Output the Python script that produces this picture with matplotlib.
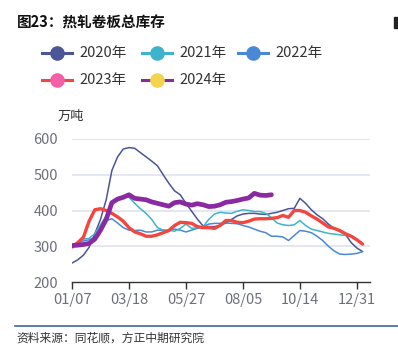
import matplotlib
matplotlib.use("Agg")
import matplotlib.pyplot as plt
from matplotlib.lines import Line2D
from matplotlib.patches import Rectangle

plt.rcParams['font.family'] = ['Noto Sans CJK SC', 'DejaVu Sans']

tick_labels = ["01/07", "03/18", "05/27", "08/05", "10/14", "12/31"]
tick_pos = [0, 10, 20, 30, 40, 50]

s2020 = [253, 262, 275, 297, 335, 375, 430, 512, 550, 572, 576, 574, 562, 550, 538, 525,
         500, 476, 455, 444, 420, 398, 376, 357, 355, 355, 358, 365, 375, 385, 390, 392,
         392, 390, 389, 392, 395, 400, 405, 406, 434, 420, 402, 388, 377, 362, 350, 341,
         333, 310, 295, 285]
s2021 = [302, 310, 320, 322, 335, 360, 385, 415, 435, 437, 437, 420, 405, 392, 375, 352,
         345, 345, 342, 350, 362, 350, 352, 355, 375, 390, 395, 393, 392, 398, 402, 400,
         397, 397, 392, 380, 365, 360, 358, 360, 372, 358, 348, 344, 340, 336, 334, 332,
         330, 330, 320, 307]
s2022 = [302, 308, 315, 318, 325, 350, 372, 377, 365, 352, 345, 344, 345, 340, 340, 345,
         345, 343, 348, 345, 340, 345, 350, 355, 362, 364, 364, 365, 364, 363, 358, 354,
         348, 342, 338, 328, 328, 326, 316, 330, 344, 342, 338, 328, 316, 300, 287, 278,
         277, 278, 280, 285]
s2023 = [298, 310, 325, 370, 402, 405, 400, 392, 382, 370, 352, 340, 335, 328, 328, 332,
         338, 344, 358, 367, 366, 364, 355, 352, 352, 350, 358, 372, 372, 367, 366, 370,
         376, 377, 377, 378, 380, 386, 381, 400, 400, 395, 385, 376, 365, 354, 350, 344,
         335, 328, 318, 306]
s2024 = [302, 303, 305, 308, 320, 345, 375, 422, 432, 437, 444, 434, 432, 430, 424, 420,
         416, 412, 422, 424, 418, 415, 419, 416, 411, 412, 416, 423, 425, 428, 432, 435,
         448, 443, 442, 444]

series = [
    ("2020年", s2020, "#4b5597", "#4b5597", 1.1, 2),
    ("2021年", s2021, "#3db4cc", "#3db4cc", 1.1, 3),
    ("2022年", s2022, "#4a88d6", "#4a88d6", 1.1, 2),
    ("2023年", s2023, "#f2463f", "#f45fa8", 2.4, 4),
    ("2024年", s2024, "#8a2aa3", "#f2d44f", 3.4, 5),
]

W, H = 398, 346
fig = plt.figure(figsize=(W / 100, H / 100), dpi=100)
ax = fig.add_axes([72 / W, 1 - 282 / H, (370 - 72) / W, (282 - 139) / H])

for name, vals, lc, mc, lw, z in series:
    ax.plot(range(len(vals)), vals, color=lc, lw=lw, zorder=z, solid_capstyle='round')

ax.set_xlim(0, 52.3)
ax.set_ylim(200, 600)
ax.set_yticks([200, 300, 400, 500, 600])
ax.set_yticklabels(["200", "300", "400", "500", "600"])
ax.set_xticks(tick_pos)
ax.set_xticklabels(tick_labels)
for y in [300, 400, 500, 600]:
    ax.axhline(y, color="#dfe2f0", lw=1.2, zorder=0)
for s in ["top", "right", "left"]:
    ax.spines[s].set_visible(False)
ax.spines["bottom"].set_color("#333333")
ax.spines["bottom"].set_linewidth(1.0)
ax.tick_params(axis="y", length=0, pad=10, labelsize=10.5, labelcolor="#6e7079")
ax.tick_params(axis="x", length=5, width=1, color="#333333", pad=3, labelsize=10.5,
               labelcolor="#6e7079")
ax.set_facecolor("none")

# y unit label
fig.text(58 / W, 1 - 116 / H, "万吨", fontsize=9.5, color="#333333", ha="left", va="center")

# title
fig.text(17 / W, 1 - 23 / H, "图23：热轧卷板总库存", fontsize=10.5, fontweight="bold",
         color="#111111", ha="left", va="center")
fig.patches.append(Rectangle((394 / W, 1 - 28 / H), 4 / W, 11 / H, transform=fig.transFigure,
                             color="#222222"))

# legend (manual, echarts style)
legend_pos = [(42, 53), (142, 53), (238, 53), (42, 80), (142, 80)]
for (name, vals, lc, mc, lw, z), (lx, ly) in zip(series, legend_pos):
    yy = 1 - ly / H
    fig.add_artist(Line2D([lx / W, (lx + 30) / W], [yy, yy], color=lc, lw=2.2,
                          transform=fig.transFigure))
    fig.add_artist(Line2D([(lx + 15) / W], [yy], marker="o", markersize=9.5,
                          markerfacecolor=mc, markeredgecolor=mc, transform=fig.transFigure))
    fig.text((lx + 37) / W, yy, name, fontsize=10.5, color="#333333", ha="left", va="center")

# footer
fig.add_artist(Line2D([15 / W, 1.0], [1 - 326 / H, 1 - 326 / H], color="#3b6a94", lw=1.2,
                      transform=fig.transFigure))
fig.text(16 / W, 1 - 338 / H, "资料来源：同花顺，方正中期研究院", fontsize=8.5, style="italic",
         color="#333333", ha="left", va="center")

fig.savefig("out.png", dpi=100, facecolor="white")
